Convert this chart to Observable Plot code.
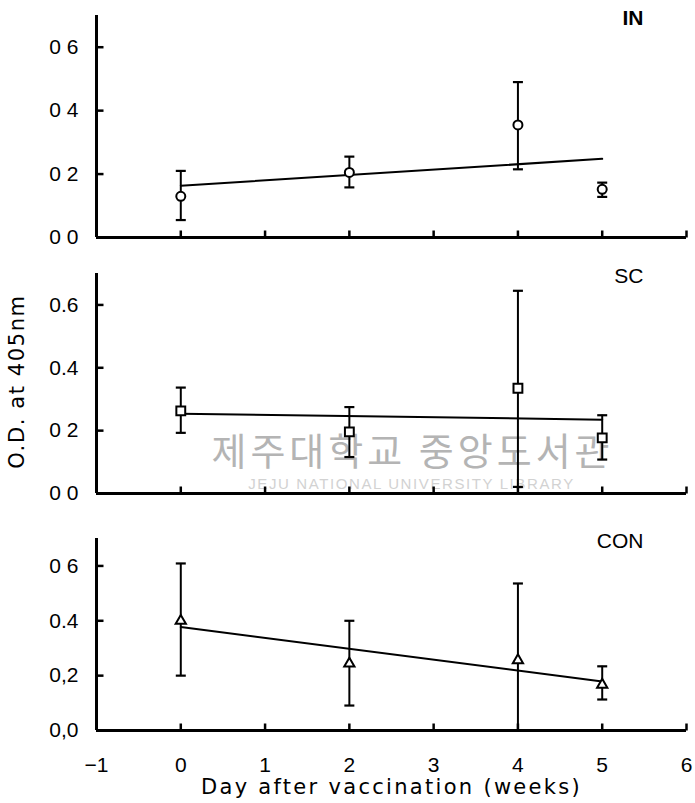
<!DOCTYPE html>
<html>
<head>
<meta charset="utf-8">
<script src="https://cdn.jsdelivr.net/npm/d3@7"></script>
<script src="https://cdn.jsdelivr.net/npm/@observablehq/plot@0.6"></script>
<style>
  body { margin: 0; background: white; }
  #wrap { position: relative; width: 695px; height: 803px; background: white; overflow: hidden; }
  .panel { position: absolute; left: 0; }
  g[font-family="DejaVu Sans"] text { letter-spacing: 1.6px; }
  g[font-family="DejaVu Sans, sans-serif"] text { letter-spacing: 2.3px; }
  g[font-family="Noto Sans CJK KR"] text { letter-spacing: 4px; }
  g[font-family="Liberation Sans, sans-serif"] text { letter-spacing: 1.6px; }
</style>
</head>
<body>
<div id="wrap"></div>
<script>
// ---------- data ----------
const weeks = [0, 2, 4, 5];

const inMean = [0.13, 0.205, 0.355, 0.152];
const inLow  = [0.055, 0.158, 0.215, 0.128];
const inHigh = [0.21, 0.255, 0.49, 0.173];
const inFit  = [0.163, 0.248]; // fitted line at week 0 and week 5

const scMean = [0.263, 0.196, 0.335, 0.177];
const scLow  = [0.193, 0.116, 0.021, 0.108];
const scHigh = [0.337, 0.275, 0.645, 0.249];
const scFit  = [0.254, 0.235];

const conMean = [0.40, 0.244, 0.256, 0.167];
const conLow  = [0.20, 0.091, 0.0, 0.113];
const conHigh = [0.609, 0.40, 0.536, 0.234];
const conFit  = [0.377, 0.179];

const fitWeeks = [0, 5];

const xTicks = [-1, 0, 1, 2, 3, 4, 5, 6];
const xLabels = ["\u22121", "0", "1", "2", "3", "4", "5", "6"];
const yTicks = [0, 0.2, 0.4, 0.6];
const yLabelsIN  = ["0 0", "0 2", "0 4", "0 6"];
const yLabelsSC  = ["0 0", "0 2", "0.4", "0.6"];
const yLabelsCON = ["0,0", "0,2", "0.4", "0 6"];

const panelNames = ["IN", "SC", "CON"];
const yTitle = "O.D. at 405nm";
const xTitle = "Day after vaccination (weeks)";
const watermarkKo = "제주대학교 중앙도서관";
const watermarkEn = "JEJU NATIONAL UNIVERSITY LIBRARY";

// ---------- helpers ----------
const rows = (m, lo, hi) => weeks.map((w, i) => ({week: w, mean: m[i], low: lo[i], high: hi[i]}));
const fitRows = f => fitWeeks.map((w, i) => ({week: w, v: f[i]}));

const capSym = {draw(ctx, size) { const r = Math.sqrt(size / Math.PI); ctx.moveTo(-r, 0); ctx.lineTo(r, 0); }};
const tickRight = {draw(ctx, size) { const r = Math.sqrt(size / Math.PI); ctx.moveTo(0, 0); ctx.lineTo(r, 0); }};
const tickUp = {draw(ctx, size) { const r = Math.sqrt(size / Math.PI); ctx.moveTo(0, 0); ctx.lineTo(0, -r); }};

function panel({top, height, marginTop, marginBottom, data, fit, symbol, r, labels, name, nameBold, extra = [], bottomAxis = false}) {
  const marks = [
    ...extra,
    Plot.ruleX([-1], {stroke: "black", strokeWidth: 3}),
    Plot.ruleY([0], {stroke: "black", strokeWidth: 3}),
    Plot.dot(yTicks.slice(1), {x: () => -1, y: d => d, symbol: tickRight, r: 7, stroke: "black", strokeWidth: 2.5}),
    Plot.dot(xTicks.slice(1), {x: d => d, y: () => 0, symbol: tickUp, r: 7, stroke: "black", strokeWidth: 2.5}),
    Plot.axisY({ticks: yTicks, tickSize: 0, tickPadding: 18, label: null, tickFormat: d => labels[Math.round(d / 0.2)], fontSize: 21, fontFamily: "Liberation Sans"}),
    Plot.line(fit, {x: "week", y: "v", stroke: "black", strokeWidth: 2}),
    Plot.ruleX(data, {x: "week", y1: "low", y2: "high", stroke: "black", strokeWidth: 2}),
    Plot.dot(data, {x: "week", y: "high", symbol: capSym, r: 5, stroke: "black", strokeWidth: 2.2}),
    Plot.dot(data, {x: "week", y: "low", symbol: capSym, r: 5, stroke: "black", strokeWidth: 2.2}),
    Plot.dot(data, {x: "week", y: "mean", symbol, r, stroke: "black", fill: "white", strokeWidth: 2}),
    Plot.text([name], {text: d => d, frameAnchor: "top-right", dx: -43, dy: 3, textAnchor: "end", lineAnchor: "middle", fontSize: 21, fontFamily: "Liberation Sans", fontWeight: nameBold ? "bold" : "normal"})
  ];
  if (bottomAxis) {
    marks.push(Plot.axisX({ticks: xTicks, tickSize: 0, tickPadding: 27, label: null, tickFormat: d => xLabels[xTicks.indexOf(d)], fontSize: 21, fontFamily: "Liberation Sans"}));
    marks.push(Plot.text([xTitle], {text: d => d, frameAnchor: "bottom", dy: 57, lineAnchor: "middle", fontSize: 21, fontFamily: "DejaVu Sans, sans-serif"}));
  }
  const chart = Plot.plot({
    width: 695,
    height,
    marginLeft: 96,
    marginRight: 9,
    marginTop,
    marginBottom,
    style: {background: "transparent", color: "black", fontFamily: "Liberation Sans", fontSize: "21px", overflow: "visible"},
    x: {domain: [-1, 6], axis: null},
    y: {domain: [0, 0.7], axis: null},
    marks
  });
  const div = document.createElement("div");
  div.className = "panel";
  div.style.top = top + "px";
  div.appendChild(chart);
  document.getElementById("wrap").appendChild(div);
}

panel({top: 0, height: 250, marginTop: 15, marginBottom: 13,
  data: rows(inMean, inLow, inHigh), fit: fitRows(inFit), symbol: "circle", r: 4.5,
  labels: yLabelsIN, name: panelNames[0], nameBold: true});

panel({top: 250, height: 255, marginTop: 23, marginBottom: 12,
  data: rows(scMean, scLow, scHigh), fit: fitRows(scFit), symbol: "square", r: 5,
  labels: yLabelsSC, name: panelNames[1],
  extra: [
    Plot.text([watermarkKo], {text: d => d, frameAnchor: "bottom-left", dx: 316, dy: -41, textAnchor: "middle", lineAnchor: "middle", fontSize: 38, fill: "#b4b4b4", fontFamily: "Noto Sans CJK KR"}),
    Plot.text([watermarkEn], {text: d => d, frameAnchor: "bottom-left", dx: 315, dy: -9, textAnchor: "middle", lineAnchor: "middle", fontSize: 15, fill: "#d2d2d2", fontFamily: "Liberation Sans, sans-serif"}),
    Plot.text([yTitle], {text: d => d, frameAnchor: "left", dx: -79, dy: -2, rotate: -90, textAnchor: "middle", lineAnchor: "middle", fontSize: 21, fontFamily: "DejaVu Sans"})
  ]});

panel({top: 505, height: 298, marginTop: 33, marginBottom: 73,
  data: rows(conMean, conLow, conHigh), fit: fitRows(conFit), symbol: "triangle", r: 3.8,
  labels: yLabelsCON, name: panelNames[2], bottomAxis: true});
</script>
</body>
</html>
